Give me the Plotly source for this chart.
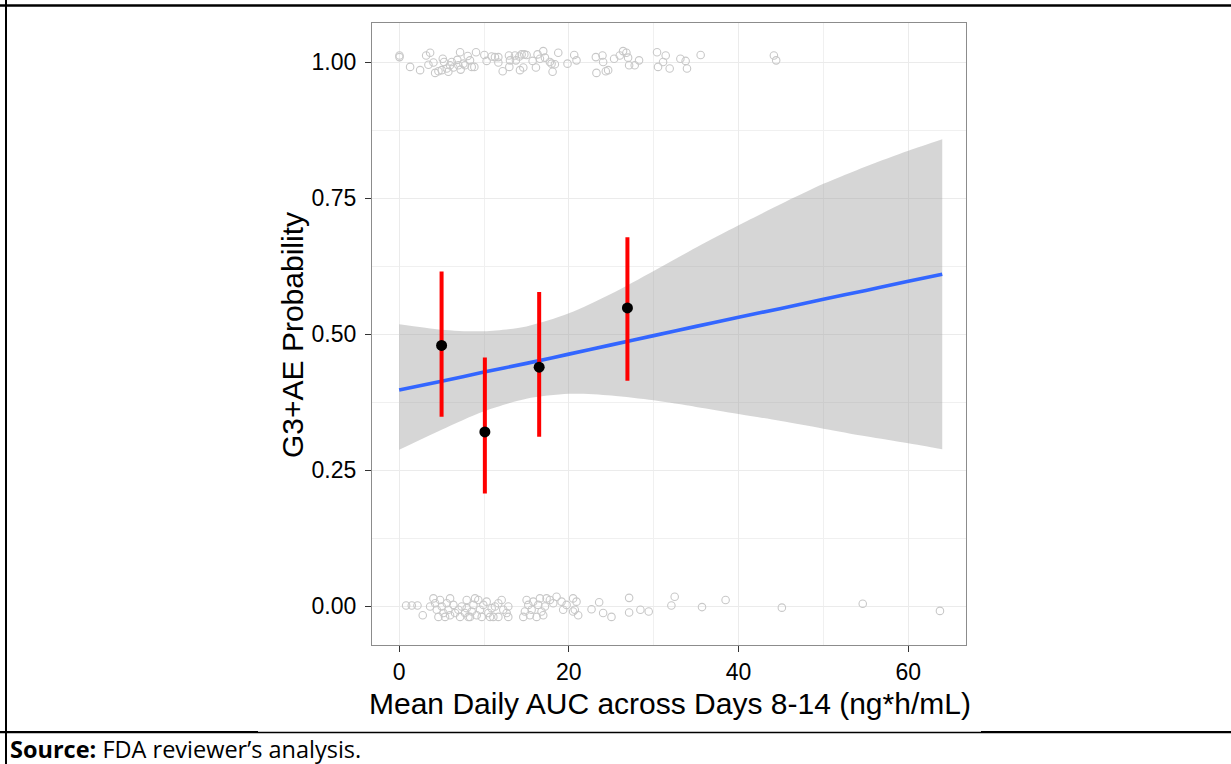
import plotly.graph_objects as go

# ---------------- data ----------------
# jittered observations, event = 1 row
obs1_x = [0.04, 0.04, 1.29, 2.47, 3.18, 3.65, 3.45, 4.04, 4.24, 4.63, 5.14, 5.29, 5.02, 5.61,
          5.80, 6.00, 6.20, 6.39, 6.86, 6.98, 7.18, 7.25, 7.57, 7.76, 8.08, 8.35, 8.55, 8.86,
          9.06, 10.04, 10.31, 10.90, 11.29, 11.69, 11.69, 12.20, 12.94, 13.06, 12.98, 13.65,
          13.76, 14.16, 14.24, 14.43, 14.63, 14.75, 15.02, 15.73, 16.12, 16.31, 16.59, 16.98,
          17.18, 17.76, 17.96, 18.08, 18.35, 18.75, 19.84, 20.63, 20.90, 23.18, 23.25, 23.96,
          24.04, 24.35, 24.63, 25.33, 26.00, 26.39, 26.78, 26.98, 27.10, 27.76, 28.27, 30.39,
          30.51, 31.10, 31.41, 31.88, 33.14, 33.76, 33.92, 35.53, 44.16, 44.43]
obs1_y = [1.012, 1.009, 0.991, 0.985, 1.012, 1.017, 0.995, 0.999, 0.980, 0.983, 1.006, 1.000,
          0.985, 0.988, 0.982, 0.994, 1.000, 0.990, 1.004, 0.994, 1.018, 0.986, 0.997, 0.994,
          1.011, 1.003, 0.991, 0.991, 1.018, 1.013, 1.002, 1.010, 1.009, 1.009, 0.999, 0.983,
          1.012, 1.003, 0.991, 1.012, 1.003, 1.010, 0.985, 1.014, 0.990, 1.014, 1.013, 1.002,
          0.990, 1.014, 1.006, 1.020, 1.008, 1.000, 0.997, 0.982, 0.996, 1.017, 0.997, 1.013,
          1.003, 1.009, 0.980, 1.012, 1.000, 0.983, 0.985, 1.006, 1.012, 1.020, 1.017, 1.008,
          0.994, 0.994, 1.003, 1.018, 0.991, 1.000, 1.012, 0.988, 1.006, 1.002, 0.988, 1.013,
          1.012, 1.003]

# jittered observations, event = 0 row
obs0_x = [0.82, 1.49, 2.16, 2.78, 3.65, 4.04, 4.24, 4.43, 4.63, 4.82, 5.02, 5.22, 5.41, 5.61,
          5.80, 6.00, 6.00, 6.39, 6.59, 6.98, 7.18, 7.37, 7.76, 7.96, 7.96, 8.16, 8.35, 8.55,
          8.75, 8.94, 9.14, 9.33, 9.53, 9.73, 9.92, 10.31, 10.51, 10.71, 10.90, 11.10, 11.29,
          11.69, 11.69, 12.08, 12.27, 12.67, 12.86, 12.86, 14.63, 14.82, 15.02, 15.22, 15.41,
          15.61, 15.80, 16.20, 16.39, 16.59, 16.78, 16.98, 17.18, 17.37, 17.76, 18.16, 18.55,
          19.14, 19.33, 19.73, 20.50, 20.50, 20.90, 21.10, 20.70, 22.67, 23.57, 24.04, 25.02,
          27.10, 27.10, 28.43, 29.41, 32.08, 32.47, 35.69, 38.47, 45.10, 54.63, 63.73]
obs0_y = [0.001, 0.001, 0.001, -0.017, -0.001, 0.014, 0.005, -0.007, -0.020, 0.011, -0.001,
          -0.013, -0.020, 0.005, -0.007, 0.014, -0.017, 0.002, -0.013, -0.007, -0.020, -0.001,
          -0.013, 0.011, -0.004, -0.020, -0.020, -0.010, 0.002, 0.014, -0.017, 0.011, -0.007,
          -0.020, 0.002, 0.008, -0.013, -0.020, -0.004, -0.020, -0.001, 0.005, -0.020, 0.011,
          -0.007, -0.013, -0.001, -0.020, -0.020, -0.010, 0.011, 0.002, -0.017, -0.007, 0.008,
          -0.020, 0.002, 0.014, -0.010, -0.017, -0.001, 0.014, 0.011, 0.005, 0.017, 0.008,
          -0.007, 0.002, 0.014, -0.010, 0.008, -0.017, -0.007, -0.006, 0.007, -0.013, -0.020,
          0.015, -0.012, -0.007, -0.010, 0.001, 0.017, -0.002, 0.011, -0.003, 0.004, -0.009]

# logistic fit with 95% confidence band
fit_x = [0, 5, 10, 15, 20, 25, 30, 35, 40, 45, 50, 55, 60, 64]
fit_y = [0.397, 0.413, 0.430, 0.446, 0.463, 0.480, 0.497, 0.514, 0.531, 0.547, 0.564, 0.580, 0.597, 0.610]
fit_upper = [0.518, 0.508, 0.505, 0.514, 0.538, 0.574, 0.616, 0.659, 0.700, 0.739, 0.776, 0.808, 0.837, 0.858]
fit_lower = [0.287, 0.324, 0.358, 0.381, 0.390, 0.387, 0.378, 0.366, 0.353, 0.340, 0.326, 0.312, 0.299, 0.288]

# observed proportions by exposure bin with 95% CI
bin_x = [5.0, 10.1, 16.5, 26.9]
bin_p = [0.479, 0.320, 0.439, 0.548]
bin_lo = [0.348, 0.207, 0.311, 0.414]
bin_hi = [0.615, 0.457, 0.577, 0.678]

x_ticks = [0, 20, 40, 60]
y_ticks = [0.0, 0.25, 0.5, 0.75, 1.0]
y_ticklabels = ["0.00", "0.25", "0.50", "0.75", "1.00"]

x_title = "Mean Daily AUC across Days 8-14 (ng*h/mL)"
y_title = "G3+AE Probability"

# ---------------- layout geometry (pixels) ----------------
W, H = 1231, 764
PL, PR, PT, PB = 372, 966, 23, 645


def px_x(p):
    return (p - PL) / (PR - PL)


def px_y(p):
    return (PB - p) / (PB - PT)


FONT = "Liberation Sans, Arial, sans-serif"

fig = go.Figure()

circle_style = dict(symbol="circle-open", size=7.5, color="rgb(200,200,200)",
                    line=dict(width=1.1, color="rgb(200,200,200)"))
fig.add_trace(go.Scatter(x=obs1_x, y=obs1_y, mode="markers", marker=circle_style,
                         showlegend=False, hoverinfo="skip"))
fig.add_trace(go.Scatter(x=obs0_x, y=obs0_y, mode="markers", marker=circle_style,
                         showlegend=False, hoverinfo="skip"))

# confidence band
fig.add_trace(go.Scatter(x=fit_x, y=fit_upper, mode="lines",
                         line=dict(width=0, shape="spline", smoothing=0.8),
                         showlegend=False, hoverinfo="skip"))
fig.add_trace(go.Scatter(x=fit_x, y=fit_lower, mode="lines",
                         line=dict(width=0, shape="spline", smoothing=0.8),
                         fill="tonexty", fillcolor="rgba(153,153,153,0.4)",
                         showlegend=False, hoverinfo="skip"))
# fitted line
fig.add_trace(go.Scatter(x=fit_x, y=fit_y, mode="lines",
                         line=dict(color="#3366FF", width=3.6, shape="spline"),
                         showlegend=False))

# error bars + points
fig.add_trace(go.Scatter(
    x=bin_x, y=bin_p, mode="markers",
    marker=dict(size=11, color="black"),
    error_y=dict(type="data", symmetric=False,
                 array=[h - p for h, p in zip(bin_hi, bin_p)],
                 arrayminus=[p - l for p, l in zip(bin_p, bin_lo)],
                 color="#FF0000", thickness=4, width=0),
    showlegend=False))

axis_common = dict(
    showgrid=True, gridcolor="#EBEBEB", gridwidth=1.2,
    zeroline=False, showline=True, mirror=True, linecolor="#8C8C8C", linewidth=1.2,
    ticks="outside", ticklen=6, tickwidth=1.2, tickcolor="#333333",
    tickfont=dict(family=FONT, size=23, color="black"),
)

fig.update_xaxes(range=[-3.2, 66.8], tickvals=x_ticks, **axis_common,
                 minor=dict(tickvals=[10, 30, 50], showgrid=True, gridcolor="#F0F0F0",
                            gridwidth=0.7, ticks=""))
fig.update_yaxes(range=[-0.0717, 1.0717], tickvals=y_ticks, ticktext=y_ticklabels,
                 ticklabelstandoff=4, **axis_common,
                 minor=dict(tickvals=[0.125, 0.375, 0.625, 0.875], showgrid=True,
                            gridcolor="#F0F0F0", gridwidth=0.7, ticks=""))

annotations = [
    dict(text=x_title, xref="paper", yref="paper", x=px_x(670), y=px_y(703),
         xanchor="center", yanchor="middle", showarrow=False,
         font=dict(family=FONT, size=30, color="black")),
    dict(text=y_title, xref="paper", yref="paper", x=px_x(292), y=px_y(335),
         xanchor="center", yanchor="middle", showarrow=False, textangle=-90,
         font=dict(family=FONT, size=30, color="black")),
    dict(text="<b>Source:</b> FDA reviewer\u2019s analysis.", xref="paper", yref="paper",
         x=px_x(8), y=px_y(749), xanchor="left", yanchor="middle", showarrow=False,
         font=dict(family="Open Sans, Lato, sans-serif", size=23.5, color="black")),
]

shapes = [
    # top rule
    dict(type="line", xref="paper", yref="paper", x0=px_x(0), x1=px_x(W), y0=px_y(5.5), y1=px_y(5.5),
         line=dict(color="black", width=2.5)),
    # left rule
    dict(type="line", xref="paper", yref="paper", x0=px_x(6), x1=px_x(6), y0=px_y(0), y1=px_y(H),
         line=dict(color="black", width=2)),
    # separator above source line
    dict(type="line", xref="paper", yref="paper", x0=px_x(0), x1=px_x(W), y0=px_y(732.5), y1=px_y(732.5),
         line=dict(color="black", width=1.5)),
    dict(type="line", xref="paper", yref="paper", x0=px_x(0), x1=px_x(258), y0=px_y(732), y1=px_y(732),
         line=dict(color="black", width=2)),
    dict(type="line", xref="paper", yref="paper", x0=px_x(981), x1=px_x(W), y0=px_y(732), y1=px_y(732),
         line=dict(color="black", width=2)),
]

fig.update_layout(
    width=W, height=H,
    margin=dict(l=PL, r=W - PR, t=PT, b=H - PB, pad=0),
    paper_bgcolor="white", plot_bgcolor="white",
    annotations=annotations, shapes=shapes,
    showlegend=False,
)

fig.write_html(
    "out.html",
    config={"displayModeBar": False},
    post_script="document.body.style.margin='0';document.body.style.overflow='hidden';",
)
